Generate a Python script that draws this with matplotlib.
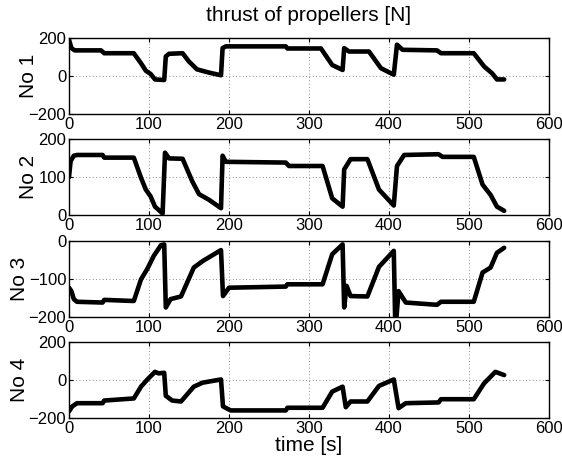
import matplotlib
matplotlib.use('Agg')
import matplotlib.pyplot as plt
import numpy as np

plt.rcParams['font.family'] = ['Liberation Sans', 'DejaVu Sans']

# propeller 1
t1 = [0, 3, 7, 40, 44, 81, 90, 96, 102, 107.5, 119, 121, 125, 142, 150, 160, 175, 190,
      192, 196, 271, 273, 315, 329, 342, 344, 350, 375, 390, 406, 410, 417, 460, 465,
      506, 519, 529, 535, 544]
f1 = [191, 147, 135, 135, 120, 120, 67, 28, 11, -18, -21, 103, 117, 120, 76, 35, 18, 4,
      147, 156, 156, 145, 145, 58, 32, 147, 129, 129, 41, 7, 165, 138, 135, 120,
      120, 50, 14, -18, -18]

# propeller 2
t2 = [0, 2, 6, 10, 42, 44, 81, 90, 96, 102, 107.5, 117, 120, 125, 142, 154, 162.5, 175,
      190, 192, 196, 271, 275, 317, 329, 342, 344, 352, 373, 387.5, 406, 410, 419, 462,
      467, 506, 517, 527, 535, 544]
f2 = [100, 142, 156, 158, 158, 151, 151, 98, 67, 49, 22, 4, 164, 149, 148, 89, 55, 40,
      18, 156, 140, 138, 129, 129, 44, 22, 120, 147, 147, 67, 25, 129, 158, 160,
      153, 153, 80, 53, 22, 11]

# propeller 3
t3 = [0, 3, 6, 10, 42, 44, 81, 90, 98, 106, 115, 119, 121, 127, 140, 156, 167, 190,
      192.5, 200, 271, 273, 317, 329, 342, 344, 347, 352, 373, 387.5, 406, 408, 412,
      421, 460, 465, 506, 517, 527, 535, 544]
f3 = [-123, -132, -153, -160, -162, -155, -158, -101, -73, -39, -11, -9, -175, -153,
      -146, -70, -53, -24, -145, -123, -120, -114, -114, -35, -9, -175, -118, -145,
      -146, -68, -26, -235, -132, -162, -168, -160, -160, -83, -70, -31, -18]

# propeller 4
t4 = [0, 4, 10, 42, 44, 81, 90, 98, 107.5, 112, 119, 121, 129, 140, 156, 167, 190,
      192.5, 202, 271, 273, 317, 329, 342, 346, 352, 373, 387.5, 406, 412, 421, 462,
      465, 506, 519, 533, 544]
f4 = [-165, -139, -122, -122, -108, -97, -35, 3, 43, 35, 38, -83, -108, -113, -35, -14,
      3, -139, -160, -160, -146, -146, -61, -35, -143, -113, -113, -31, 3, -148, -122,
      -118, -101, -101, -17, 43, 26]

series = [(t1, f1), (t2, f2), (t3, f3), (t4, f4)]
names = ['No 1', 'No 2', 'No 3', 'No 4']
ylims = [(-200, 200), (0, 200), (-200, 0), (-200, 200)]
yticks = [[-200, 0, 200], [0, 100, 200], [-200, -100, 0], [-200, 0, 200]]

fig = plt.figure(figsize=(5.62, 4.62), dpi=100)
bottoms = [0.7532, 0.5346, 0.3139, 0.0952]
label_x = [-0.085, -0.085, -0.104, -0.104]

for i in range(4):
    ax = fig.add_axes([0.1228, bottoms[i], 0.854, 0.1645])
    t, f = series[i]
    ax.plot(t, f, color='black', linewidth=3.3, solid_joinstyle='round',
            solid_capstyle='round')
    ax.set_xlim(0, 600)
    ax.set_ylim(*ylims[i])
    ax.set_xticks([0, 100, 200, 300, 400, 500, 600])
    ax.set_yticks(yticks[i])
    ax.grid(True, linestyle=(0, (1, 3)), color='black', linewidth=0.6, alpha=0.6)
    ax.tick_params(direction='in', top=True, right=True, length=3, labelsize=12, pad=2)
    ax.tick_params(axis='x', pad=2)
    ax.set_ylabel(names[i], fontsize=15, va='center')
    ax.yaxis.set_label_coords(label_x[i], 0.5)
    for s in ax.spines.values():
        s.set_linewidth(1.0)
    if i == 0:
        ax.set_title('thrust of propellers [N]', fontsize=15, pad=12)
    if i == 3:
        ax.set_xlabel('time [s]', fontsize=15, labelpad=0)

fig.savefig('out.png', dpi=100)
